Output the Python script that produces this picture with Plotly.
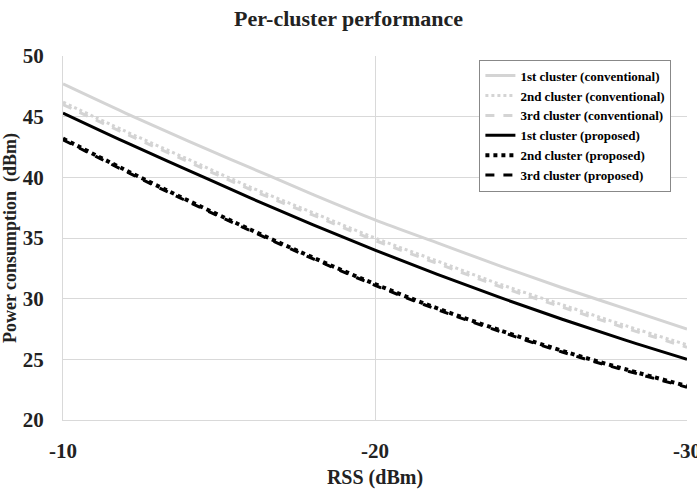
import plotly.graph_objects as go

rss = [-10, -12, -14, -16, -18, -20, -22, -24, -26, -28, -30]
conv1 = [47.7, 45.3, 43.0, 40.8, 38.6, 36.5, 34.6, 32.7, 30.9, 29.2, 27.5]
conv2 = [46.2, 43.8, 41.5, 39.2, 37.1, 35.0, 33.1, 31.2, 29.5, 27.8, 26.2]
conv3 = [46.0, 43.6, 41.3, 39.0, 36.9, 34.8, 32.9, 31.0, 29.3, 27.6, 26.0]
prop1 = [45.3, 42.9, 40.6, 38.3, 36.1, 34.0, 32.0, 30.1, 28.3, 26.6, 25.0]
prop2 = [43.2, 40.6, 38.1, 35.7, 33.4, 31.2, 29.2, 27.4, 25.7, 24.2, 22.8]
prop3 = [43.1, 40.5, 38.0, 35.6, 33.3, 31.1, 29.1, 27.3, 25.6, 24.1, 22.7]

names = ["1st cluster (conventional)", "2nd cluster (conventional)", "3rd cluster (conventional)",
         "1st cluster (proposed)", "2nd cluster (proposed)", "3rd cluster (proposed)"]

x_ticks = [-10, -20, -30]
x_ticklabels = ["-10", "-20", "-30"]
y_ticks = [20, 25, 30, 35, 40, 45, 50]

FONT = "Liberation Serif, Times New Roman, serif"
grey = "#d4d4d4"
txt = "#222222"

fig = go.Figure()
series = [
    (conv1, grey, "solid", 3),
    (conv2, grey, "dot", 3),
    (conv3, grey, "dash", 3),
    (prop1, "black", "solid", 3),
    (prop2, "black", "dot", 4),
    (prop3, "black", "dash", 3),
]
for (vals, col, dash, w), nm in zip(series, names):
    fig.add_trace(go.Scatter(x=rss, y=vals, mode="lines", name=nm,
                             line=dict(color=col, dash=dash, width=w, shape="spline")))

fig.update_layout(
    width=697, height=489,
    margin=dict(l=63, r=10, t=56, b=69),
    paper_bgcolor="white", plot_bgcolor="white",
    font=dict(family=FONT, color="black"),
    title=dict(text="Per-cluster performance", x=0.5, xanchor="center",
               y=0.963, yanchor="middle",
               font=dict(size=22, family=FONT, color=txt, weight="bold")),
    legend=dict(x=0.975, xanchor="right", y=0.99, yanchor="top",
                bgcolor="white", bordercolor="#888", borderwidth=1,
                font=dict(size=13, family=FONT, color="black", weight="bold"),
                tracegroupgap=0, itemwidth=30),
    showlegend=True,
)
fig.update_xaxes(range=[-10, -30], tickvals=x_ticks, ticktext=x_ticklabels,
                 automargin=False,
                 showgrid=True, gridcolor="#d9d9d9", gridwidth=1,
                 zeroline=False, showline=True, linecolor="#d9d9d9",
                 tickfont=dict(size=21, family=FONT, color=txt, weight="bold"),
                 ticklabelstandoff=12, ticklabeloverflow="allow",
                 title=dict(text="RSS (dBm)", font=dict(size=20, family=FONT, color=txt, weight="bold"),
                            standoff=10))
fig.update_yaxes(range=[20, 50], tickvals=y_ticks,
                 automargin=False,
                 showgrid=True, gridcolor="#d9d9d9", gridwidth=1,
                 zeroline=False, showline=True, linecolor="#d9d9d9",
                 tickfont=dict(size=21, family=FONT, color=txt, weight="bold"),
                 ticklabelstandoff=14,
                 title=dict(text="Power consumption  (dBm)",
                            font=dict(size=18, family=FONT, color=txt, weight="bold"), standoff=4))

fig.write_html("out.html")
